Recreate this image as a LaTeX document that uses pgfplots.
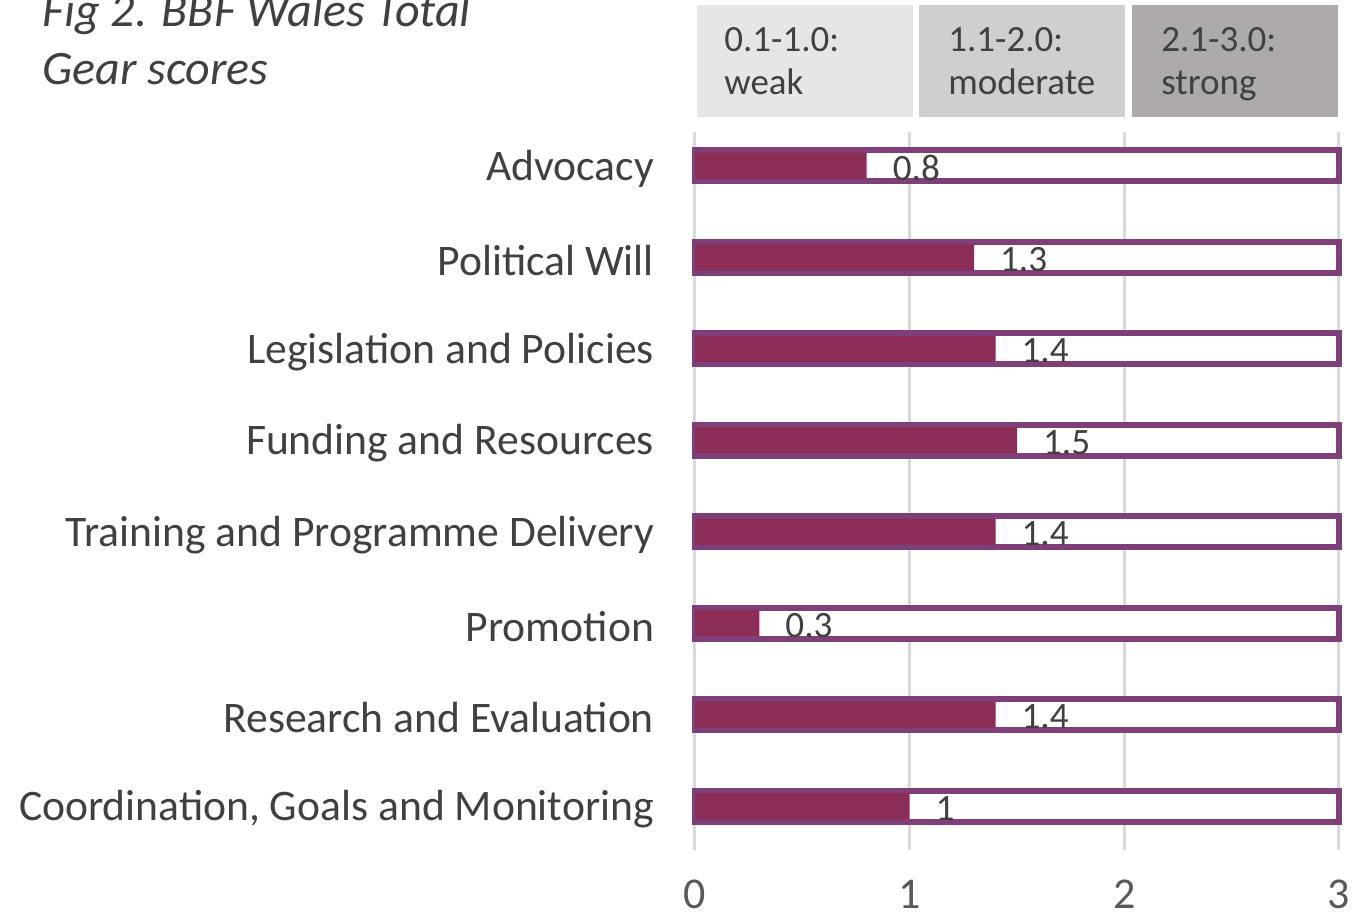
\documentclass[border=0pt]{standalone}
\usepackage{fontspec}
\setmainfont{Carlito}
\usepackage{pgfplots}
\pgfplotsset{compat=1.18}
\definecolor{barfill}{RGB}{139,45,87}
\definecolor{barline}{RGB}{127,63,120}
\definecolor{gridc}{RGB}{217,217,217}
\definecolor{txt}{RGB}{64,64,64}
\definecolor{tickc}{RGB}{89,89,89}
\definecolor{box1}{RGB}{231,230,230}
\definecolor{box2}{RGB}{208,206,206}
\definecolor{box3}{RGB}{174,170,170}
\begin{document}
\begin{tikzpicture}
\useasboundingbox (-347.5pt,-31.5pt) rectangle (330pt,425pt);
\begin{axis}[
  scale only axis, width=322pt, height=359pt,
  at={(0,0)}, anchor=south west,
  xmin=0, xmax=3, ymin=-0.48, ymax=7.37,
  xbar, bar shift=0pt,
  axis line style={draw=none},
  xtick={0,1,2,3}, xmajorgrids,
  grid style={gridc, line width=1.5pt},
  major tick length=0pt,
  ytick={0,...,7},
  yticklabels={{Coordination, Goals and Monitoring},{Research and Evaluation},Promotion,{Training and Programme Delivery},{Funding and Resources},{Legislation and Policies},{Political Will},Advocacy},
  /pgf/number format/assume math mode=true,
  xticklabel style={font=\fontsize{22}{26}\selectfont, tickc, yshift=-11.5pt},
  yticklabel style={font=\fontsize{21.8}{26}\selectfont, txt, xshift=-17pt, yshift=-1.5pt},
  clip=false,
]
\addplot[fill=white, draw=barline, line width=3pt, bar width=15.5pt] coordinates {(3,0) (3,1) (3,2) (3,3) (3,4) (3,5) (3,6) (3,7)};
\addplot[fill=barfill, draw=none, bar width=13pt,
  nodes near coords,
  every node near coord/.style={anchor=west, xshift=9.5pt, yshift=-1pt, font=\fontsize{18.6}{22}\selectfont, txt}]
  coordinates {(1,0) (1.4,1) (0.3,2) (1.4,3) (1.5,4) (1.4,5) (1.3,6) (0.8,7)};
\end{axis}
\fill[box1] (1pt,366.5pt) rectangle (109pt,422.5pt);
\fill[box2] (112pt,366.5pt) rectangle (215pt,422.5pt);
\fill[box3] (218.5pt,366.5pt) rectangle (321.5pt,422.5pt);
\begin{scope}[every node/.style={anchor=base west, inner sep=0pt, font=\fontsize{18.5}{21}\selectfont, txt}]
\node at (14.5pt,399pt) {0.1-1.0:};
\node at (14.5pt,377.5pt) {weak};
\node at (126.5pt,399pt) {1.1-2.0:};
\node at (126.5pt,377.5pt) {moderate};
\node at (233pt,399pt) {2.1-3.0:};
\node at (233pt,377.5pt) {strong};
\end{scope}
\node[anchor=base west, inner sep=0pt, font=\fontsize{24}{28}\selectfont\itshape, txt] at (-326.5pt,411.5pt) {Fig 2. BBF Wales Total};
\node[anchor=base west, inner sep=0pt, font=\fontsize{24}{28}\selectfont\itshape, txt] at (-326.5pt,382.5pt) {Gear scores};
\end{tikzpicture}
\end{document}
